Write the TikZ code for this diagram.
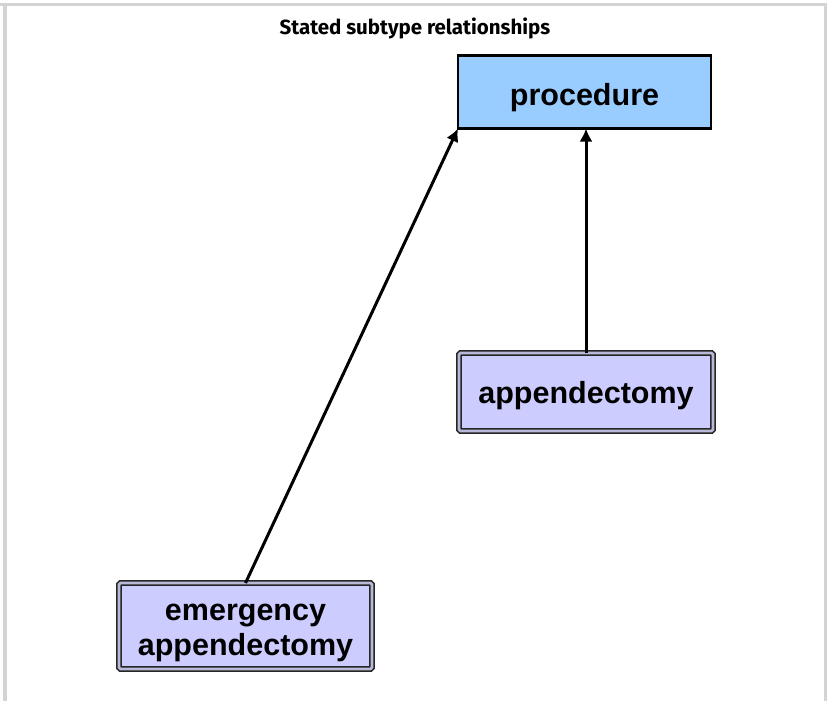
\documentclass[tikz,border=0pt]{standalone}
\usepackage{fontspec}
\setmainfont{Liberation Sans}
\newfontfamily\titlefont{Fira Sans}
\usetikzlibrary{arrows.meta}
\definecolor{framegray}{HTML}{D3D3D3}
\definecolor{procblue}{HTML}{99CCFF}
\definecolor{subfill}{HTML}{CCCCFF}
\definecolor{subgap}{HTML}{B8B8D8}
\tikzset{
  x=1pt, y=-1pt,
  parentbox/.style={draw=black, line width=2.5pt, fill=procblue, inner sep=0pt, outer sep=0pt,
    minimum width=253pt, minimum height=73pt, align=center,
    font=\fontsize{30.5}{35}\selectfont\bfseries},
  childbox/.style={draw=black!85, line width=1.6pt, double=subgap, double distance=2.6pt,
    fill=subfill, rounded corners=1.5pt, inner sep=0pt, outer sep=0pt, align=center,
    font=\fontsize{30.5}{35}\selectfont\bfseries},
  isa/.style={line width=3pt, -{Latex[length=13pt,width=13pt]}},
}
\begin{document}
\begin{tikzpicture}
\useasboundingbox (0,0) rectangle (827,701);
% light grey frame
\fill[framegray] (0,3) rectangle (827,6.5);
\fill[framegray] (3,3) rectangle (7,701);
\fill[framegray] (823.5,3) rectangle (827,701);
% heading
\node[font=\titlefont\fontsize{20.5}{24}\selectfont\bfseries] (title) at (415,28) {Stated subtype relationships};
% concepts (text height/depth place the baselines inside the boxes)
\node[parentbox, text height=26pt, text depth=0pt] (proc) at (584.5,92) {procedure};
\node[childbox, minimum width=254pt, minimum height=78pt, text height=22pt, text depth=0pt] (app) at (586,392) {appendectomy};
\node[childbox, minimum width=253pt, minimum height=86pt, text height=58pt, text depth=0pt] (emer) at (245.5,626) {emergency\\appendectomy};
% subtype links
\draw[isa] (app.north) -- (app.north |- proc.south);
\draw[isa] (emer.north) -- (proc.south west);
\end{tikzpicture}
\end{document}
